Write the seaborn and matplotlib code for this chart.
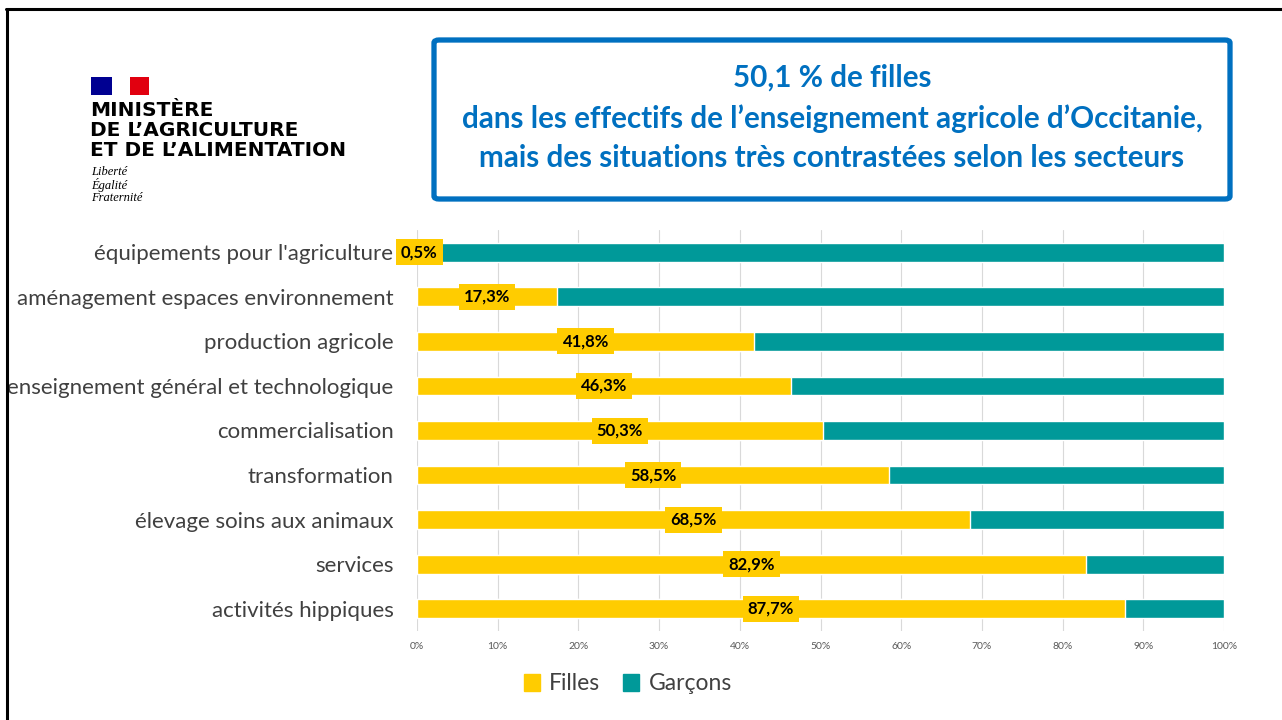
import matplotlib
matplotlib.use("Agg")
import matplotlib.pyplot as plt
import matplotlib.patches as mpatches
from matplotlib.lines import Line2D
import pandas as pd
import seaborn as sns

# data
secteurs = [
    "équipements pour l'agriculture",
    "aménagement espaces environnement",
    "production agricole",
    "enseignement général et technologique",
    "commercialisation",
    "transformation",
    "élevage soins aux animaux",
    "services",
    "activités hippiques",
]
filles = [0.5, 17.3, 41.8, 46.3, 50.3, 58.5, 68.5, 82.9, 87.7]
garcons = [99.5, 82.7, 58.2, 53.7, 49.7, 41.5, 31.5, 17.1, 12.3]
x_ticks = [0, 10, 20, 30, 40, 50, 60, 70, 80, 90, 100]

jaune = "#FFCC00"
sarcelle = "#009999"
bleu = "#0070C0"

df = pd.DataFrame({"secteur": secteurs, "Filles": filles, "Garçons": garcons})
df["total"] = df["Filles"] + df["Garçons"]

sns.set_theme(style="white")
plt.rcParams["font.family"] = ["Lato", "DejaVu Sans"]

fig = plt.figure(figsize=(12.82, 7.2), dpi=100)
ax = fig.add_axes([417 / 1282, 1 - 631 / 720, 807 / 1282, 401 / 720])

# stacked bars: total (garçons) behind, filles in front
sns.barplot(data=df, y="secteur", x="total", color=sarcelle, width=0.42,
            saturation=1, ax=ax, orient="h", zorder=2)
sns.barplot(data=df, y="secteur", x="Filles", color=jaune, width=0.42,
            saturation=1, ax=ax, orient="h", zorder=3)

for i, v in enumerate(df["Filles"]):
    txt = f"{v:.1f}".replace(".", ",") + "%"
    ax.text(max(v / 2, 0.3), i, txt, ha="center", va="center", fontsize=12,
            fontweight="bold", color="black", zorder=5,
            bbox=dict(boxstyle="square,pad=0.3", fc=jaune, ec="none"))

ax.set_xlim(0, 100)
ax.set_ylim(8.5, -0.5)
ax.set_xticks(x_ticks)
ax.set_xticklabels([f"{t}%" for t in x_ticks], fontsize=7.5, color="#595959")
ax.tick_params(axis="y", labelsize=16, labelcolor="#404040", length=0, pad=17)
ax.tick_params(axis="x", length=0, pad=8)
ax.set_xlabel("")
ax.set_ylabel("")
ax.grid(axis="x", color="#D9D9D9", lw=0.8, zorder=0)
ax.set_axisbelow(True)
for s in ax.spines.values():
    s.set_visible(False)

handles = [mpatches.Patch(color=jaune, label="Filles"),
           mpatches.Patch(color=sarcelle, label="Garçons")]
fig.legend(handles=handles, loc="center", bbox_to_anchor=(628 / 1282, 1 - 684 / 720),
           ncol=2, frameon=False, fontsize=16.5, handlelength=0.7, handleheight=0.7,
           handletextpad=0.4, columnspacing=1.0, labelcolor="#404040")

# title box
fig.patches.append(mpatches.FancyBboxPatch(
    (434 / 1282, 1 - 199 / 720), 796 / 1282, 159 / 720,
    boxstyle="round,pad=0,rounding_size=0.004", transform=fig.transFigure,
    fc="white", ec=bleu, lw=3.8))
titre = ["50,1 % de filles",
         "dans les effectifs de l’enseignement agricole d’Occitanie,",
         "mais des situations très contrastées selon les secteurs"]
for ligne, y in zip(titre, [78, 119, 158]):
    fig.text(832 / 1282, 1 - y / 720, ligne, ha="center", va="center",
             fontsize=21.3, fontweight="bold", color=bleu)

# logo du ministère
fig.patches.append(mpatches.Rectangle((91 / 1282, 1 - 95 / 720), 21 / 1282, 18 / 720,
                                      transform=fig.transFigure, fc="#000091", ec="none"))
fig.patches.append(mpatches.Rectangle((130 / 1282, 1 - 95 / 720), 19 / 1282, 18 / 720,
                                      transform=fig.transFigure, fc="#E1000F", ec="none"))
for ligne, y in zip(["MINISTÈRE", "DE L’AGRICULTURE", "ET DE L’ALIMENTATION"], [111, 131, 151]):
    fig.text(90 / 1282, 1 - y / 720, ligne, ha="left", va="center", fontsize=14.5,
             fontweight="bold", color="black", family=["DejaVu Sans"])
for ligne, y in zip(["Liberté", "Égalité", "Fraternité"], [172, 185, 198]):
    fig.text(91 / 1282, 1 - y / 720, ligne, ha="left", va="center", fontsize=9,
             style="italic", color="black", family=["Liberation Serif", "DejaVu Serif"])

# cadre partiel de la capture
fig.lines.append(Line2D([6 / 1282, 1], [1 - 9 / 720, 1 - 9 / 720],
                        transform=fig.transFigure, color="black", lw=2.2))
fig.lines.append(Line2D([7 / 1282, 7 / 1282], [0, 1 - 9 / 720],
                        transform=fig.transFigure, color="black", lw=2.2))

fig.savefig("out.png", dpi=100)
